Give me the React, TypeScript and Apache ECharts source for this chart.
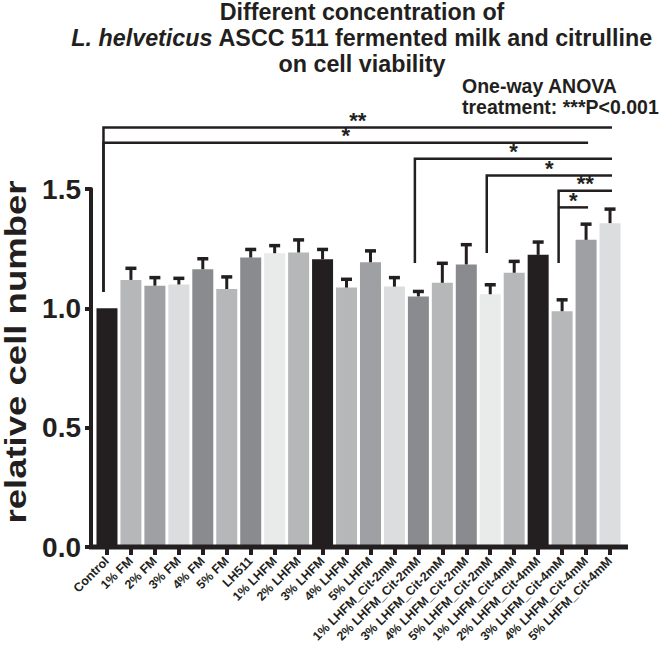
import React, { useEffect, useRef } from 'react';
import * as echarts from 'echarts';

const categories = [
  'Control', '1% FM', '2% FM', '3% FM', '4% FM', '5% FM', 'LH511',
  '1% LHFM', '2% LHFM', '3% LHFM', '4% LHFM', '5% LHFM',
  '1% LHFM_Cit-2mM', '2% LHFM_Cit-2mM', '3% LHFM_Cit-2mM', '4% LHFM_Cit-2mM', '5% LHFM_Cit-2mM',
  '1% LHFM_Cit-4mM', '2% LHFM_Cit-4mM', '3% LHFM_Cit-4mM', '4% LHFM_Cit-4mM', '5% LHFM_Cit-4mM',
];
const means = [
  1.0, 1.119, 1.095, 1.1, 1.164, 1.081, 1.213, 1.231, 1.234, 1.206, 1.087, 1.193,
  1.091, 1.05, 1.107, 1.184, 1.059, 1.149, 1.224, 0.988, 1.287, 1.357,
];
const errors = [
  0, 0.055, 0.04, 0.032, 0.05, 0.057, 0.04, 0.038, 0.059, 0.047, 0.041, 0.054,
  0.044, 0.027, 0.088, 0.089, 0.046, 0.054, 0.06, 0.054, 0.072, 0.065,
];
const yTicks = [0, 0.5, 1.0, 1.5];

// significance comparisons
const compFrom = [0, 0, 13, 16, 19, 19];
const compTo = [21, 20, 21, 21, 21, 20];
const compLevel = [1.758, 1.694, 1.627, 1.557, 1.493, 1.423];
const compLegEnd = [1.068, 1.068, 1.19, 1.232, 1.19, 1.423];
const compMarks = ['**', '*', '*', '*', '**', '*'];

const titleLines = ['Different concentration of', 'L. helveticus', ' ASCC 511 fermented milk and citrulline', 'on cell viability'];
const anovaLines = ['One-way ANOVA', 'treatment: ***P<0.001'];
const yTitle = 'relative cell number';

const ink = '#231f20';
const palette = ['#231f20', '#b6b7b9', '#9fa0a3', '#dcdddf', '#8a8b8e', '#b6b7b9', '#8a8b8e', '#e9eaea', '#b6b7b9'];
const FONT = '"Liberation Sans", Arial, sans-serif';

export default function App() {
  const ref = useRef<HTMLDivElement>(null);
  useEffect(() => {
    if (!ref.current) return;
    const chart = echarts.init(ref.current, null, { renderer: 'svg' });
    const option: any = {
      animation: false,
      textStyle: { fontFamily: FONT },
      grid: { left: 95, right: 38, top: 189, bottom: 103 },
      xAxis: {
        type: 'category',
        data: categories,
        axisLine: { show: false },
        axisTick: { show: true, alignWithLabel: true, length: 8, lineStyle: { width: 4, color: ink } },
        axisLabel: {
          rotate: 45, interval: 0, fontSize: 12.5, fontWeight: 'bold', color: ink, margin: 12, fontFamily: FONT,
        },
        splitLine: { show: false },
      },
      yAxis: {
        type: 'value',
        min: yTicks[0],
        max: yTicks[yTicks.length - 1],
        interval: 0.5,
        offset: 4,
        axisLine: { show: true, lineStyle: { color: ink, width: 4 } },
        axisTick: { show: true, length: 6, lineStyle: { width: 4, color: ink } },
        axisLabel: {
          formatter: (v: number) => v.toFixed(1), fontSize: 28, fontWeight: 'bold', color: ink, margin: 10, fontFamily: FONT,
        },
        splitLine: { show: false },
      },
      graphic: [
        {
          type: 'text', x: 362, y: 12,
          style: { text: titleLines[0], fill: ink, font: `bold 23.3px ${FONT}`, align: 'center', verticalAlign: 'middle' },
        },
        {
          type: 'text', x: 362, y: 37.5,
          style: {
            text: `{i|${titleLines[1]}}{n|${titleLines[2]}}`,
            align: 'center', verticalAlign: 'middle', fill: ink,
            font: `bold 23.3px ${FONT}`,
            rich: {
              i: { fontStyle: 'italic', fontWeight: 'bold', fontSize: 23.3, fontFamily: FONT, fill: ink },
              n: { fontWeight: 'bold', fontSize: 23.3, fontFamily: FONT, fill: ink },
            },
          },
        },
        {
          type: 'text', x: 362, y: 63.5,
          style: { text: titleLines[3], fill: ink, font: `bold 23.3px ${FONT}`, align: 'center', verticalAlign: 'middle' },
        },
        {
          type: 'text', x: 462, y: 86,
          style: { text: anovaLines[0], fill: ink, font: `bold 19.5px ${FONT}`, align: 'left', verticalAlign: 'middle' },
        },
        {
          type: 'text', x: 462, y: 107,
          style: { text: anovaLines[1], fill: ink, font: `bold 19.5px ${FONT}`, align: 'left', verticalAlign: 'middle' },
        },
        {
          type: 'text', x: 16, y: 352, rotation: Math.PI / 2, scaleX: 1.26,
          style: { text: yTitle, fill: ink, font: `bold 29px ${FONT}`, align: 'center', verticalAlign: 'middle' },
        },
      ],
      series: [
        {
          type: 'bar',
          barWidth: 21,
          z: 2,
          data: means.map((m, i) => ({ value: m, itemStyle: { color: palette[i % palette.length] } })),
        },
        {
          type: 'custom',
          z: 3,
          clip: false,
          encode: { x: 0, y: 1 },
          data: means.map((m, i) => [i, m, errors[i]]),
          renderItem: (params: any, api: any) => {
            const e = api.value(2);
            if (!e) return null;
            const i = api.value(0);
            const m = api.value(1);
            const base = api.coord([i, m]);
            const top = api.coord([i, m + e]);
            return {
              type: 'group',
              children: [
                { type: 'line', shape: { x1: base[0], y1: base[1], x2: top[0], y2: top[1] + 1 }, style: { stroke: ink, lineWidth: 3 } },
                { type: 'line', shape: { x1: top[0] - 5.5, y1: top[1] + 1.5, x2: top[0] + 5.5, y2: top[1] + 1.5 }, style: { stroke: ink, lineWidth: 3.5 } },
              ],
            };
          },
        },
        {
          type: 'custom',
          z: 4,
          clip: false,
          encode: { x: 0, y: 2 },
          data: compFrom.map((f, k) => [f, compTo[k], compLevel[k], compLegEnd[k]]),
          renderItem: (params: any, api: any) => {
            const k = params.dataIndex;
            const a = api.coord([api.value(0), api.value(3)]);
            const b = api.coord([api.value(0), api.value(2)]);
            const c = api.coord([api.value(1), api.value(2)]);
            const x1 = a[0] - 3.5;
            const x2 = c[0] + 2;
            return {
              type: 'group',
              children: [
                {
                  type: 'polyline',
                  shape: { points: [[x1, a[1]], [x1, b[1]], [x2, c[1]]] },
                  style: { stroke: ink, lineWidth: 2.5, fill: 'none' },
                },
                {
                  type: 'text', x: (x1 + x2) / 2, y: b[1] - 7,
                  style: { text: compMarks[k], fill: ink, font: `bold 22px ${FONT}`, align: 'center', verticalAlign: 'middle' },
                },
              ],
            };
          },
        },
        {
          type: 'custom',
          z: 5,
          clip: false,
          silent: true,
          encode: { x: 0, y: 1 },
          data: [[0, 0]],
          renderItem: (params: any) => {
            const cs = params.coordSys;
            const y = cs.y + cs.height;
            return {
              type: 'line',
              shape: { x1: cs.x - 6, y1: y, x2: cs.x + cs.width + 6, y2: y },
              style: { stroke: ink, lineWidth: 5 },
            };
          },
        },
      ],
    };
    chart.setOption(option);
    return () => chart.dispose();
  }, []);
  return <div ref={ref} style={{ position: 'fixed', left: 0, top: 0, width: 660, height: 650, background: '#fff' }} />;
}
